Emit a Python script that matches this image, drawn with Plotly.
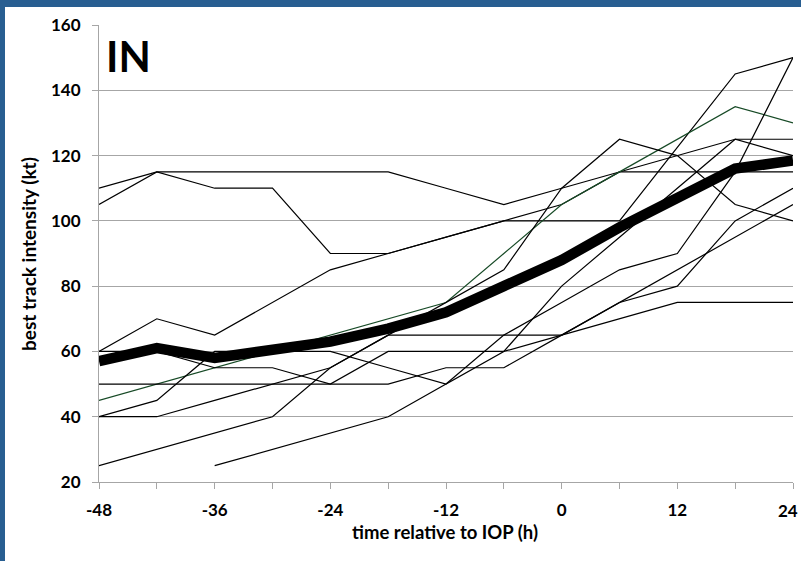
import plotly.graph_objects as go

# Time relative to IOP (h)
hours = [-48, -42, -36, -30, -24, -18, -12, -6, 0, 6, 12, 18, 24]

# Best-track intensity (kt) of each IN case
case_01 = [110, 115, 115, 115, 115, 115, 110, 105, 110, 115, 120, 125, 125]
case_02 = [105, 115, 110, 110, 90, 90, 95, 100, 100, 100, 122.5, 145, 150]
case_03 = [60, 70, 65, 75, 85, 90, 95, 100, 105, 115, 115, 115, 115]
case_04 = [45, 50, 55, 60, 65, 70, 75, 90, 105, 115, 125, 135, 130]
case_05 = [60, 60, 55, 55, 50, 60, 60, 60, 65, 70, 75, 75, 75]
case_06 = [50, 50, 50, 50, 50, 50, 55, 55, 65, 75, 85, 95, 105]
case_07 = [40, 45, 60, 60, 60, 55, 50, 60, 80, 95, 110, 125, 120]
case_08 = [40, 40, 45, 50, 55, 65, 75, 85, 110, 125, 120, 105, 100]
case_09 = [25, 30, 35, 40, 55, 65, 65, 65, 65, 75, 80, 100, 110]
case_10 = [None, None, 25, 30, 35, 40, 50, 65, 75, 85, 90, 115, 150]

# Composite mean intensity (kt)
mean_in = [57, 61, 58, 60.5, 63, 67, 72, 80, 88, 98, 107, 116, 118.5]

cases = [case_01, case_02, case_03, case_04, case_05,
         case_06, case_07, case_08, case_09, case_10]
case_colors = ["#000000", "#000000", "#000000", "#174a26", "#000000",
               "#000000", "#000000", "#000000", "#000000", "#000000"]

y_ticks = [20, 40, 60, 80, 100, 120, 140, 160]
x_ticks = [-48, -36, -24, -12, 0, 12, 24]
# the last label sits against the right edge, so it is placed separately
x_ticktext = [str(v) for v in x_ticks[:-1]] + [""]

FONT = "Lato"
GRID = "#a6a6a6"

fig = go.Figure()

for vals, col in zip(cases, case_colors):
    fig.add_trace(go.Scatter(
        x=hours, y=vals, mode="lines",
        line=dict(color=col, width=1.2),
        connectgaps=False, showlegend=False, hoverinfo="skip",
    ))

fig.add_trace(go.Scatter(
    x=hours, y=mean_in, mode="lines",
    line=dict(color="#000000", width=10.5),
    showlegend=False, hoverinfo="skip",
))

# plot area geometry in pixels
W, H = 801, 561
L, R, T, B = 99, 8, 25, 79
pw, ph = W - L - R, H - T - B


def px_x(p):
    return (p - L) / pw


def px_y(p):
    return 1 - (p - T) / ph


TICK_FONT = dict(family=FONT, size=17, color="#000000", weight="bold")

fig.update_layout(
    width=W, height=H,
    margin=dict(l=L, r=R, t=T, b=B, pad=0, autoexpand=False),
    paper_bgcolor="#ffffff",
    plot_bgcolor="#ffffff",
    font=dict(family=FONT, size=17, color="#000000"),
    xaxis=dict(
        range=[-48, 24],
        automargin=False,
        tickmode="array", tickvals=x_ticks, ticktext=x_ticktext,
        ticks="outside", ticklen=6, tickcolor=GRID, tickwidth=1,
        minor=dict(tickmode="array", tickvals=hours, ticks="outside",
                   ticklen=6, tickcolor=GRID, tickwidth=1, showgrid=False),
        showgrid=False, zeroline=False,
        showline=True, linecolor=GRID, linewidth=1,
        tickfont=TICK_FONT,
        ticklabelstandoff=7,
    ),
    yaxis=dict(
        range=[20, 160],
        automargin=False,
        tickmode="array", tickvals=y_ticks,
        ticks="outside", ticklen=6, tickcolor=GRID, tickwidth=1,
        showgrid=True, gridcolor=GRID, gridwidth=1,
        zeroline=False,
        showline=True, linecolor=GRID, linewidth=1,
        tickfont=TICK_FONT,
        ticklabelstandoff=8,
    ),
    shapes=[
        # blue frame strips along the top and left edges
        dict(type="rect", xref="paper", yref="paper",
             x0=px_x(0), x1=px_x(W), y0=px_y(7), y1=px_y(0),
             fillcolor="#285e91", line=dict(width=0), layer="above"),
        dict(type="rect", xref="paper", yref="paper",
             x0=px_x(0), x1=px_x(5), y0=px_y(H), y1=px_y(0),
             fillcolor="#285e91", line=dict(width=0), layer="above"),
    ],
    annotations=[
        dict(text="<b>IN</b>", xref="paper", yref="paper",
             x=px_x(104), y=px_y(56), xanchor="left", yanchor="middle",
             showarrow=False, font=dict(family=FONT, size=42, color="#000000")),
        dict(text=str(x_ticks[-1]), xref="paper", yref="paper",
             x=px_x(800), y=px_y(511), xanchor="right", yanchor="middle",
             showarrow=False, font=TICK_FONT),
        dict(text="<b>best track intensity (kt)</b>", xref="paper", yref="paper",
             x=px_x(28), y=px_y(254), xanchor="center", yanchor="middle",
             textangle=-90, showarrow=False,
             font=dict(family=FONT, size=19, color="#000000")),
        dict(text="<b>time relative to IOP (h)</b>", xref="paper", yref="paper",
             x=px_x(445), y=px_y(532), xanchor="center", yanchor="middle",
             showarrow=False, font=dict(family=FONT, size=18.5, color="#000000")),
    ],
)

fig.write_html("out.html")
